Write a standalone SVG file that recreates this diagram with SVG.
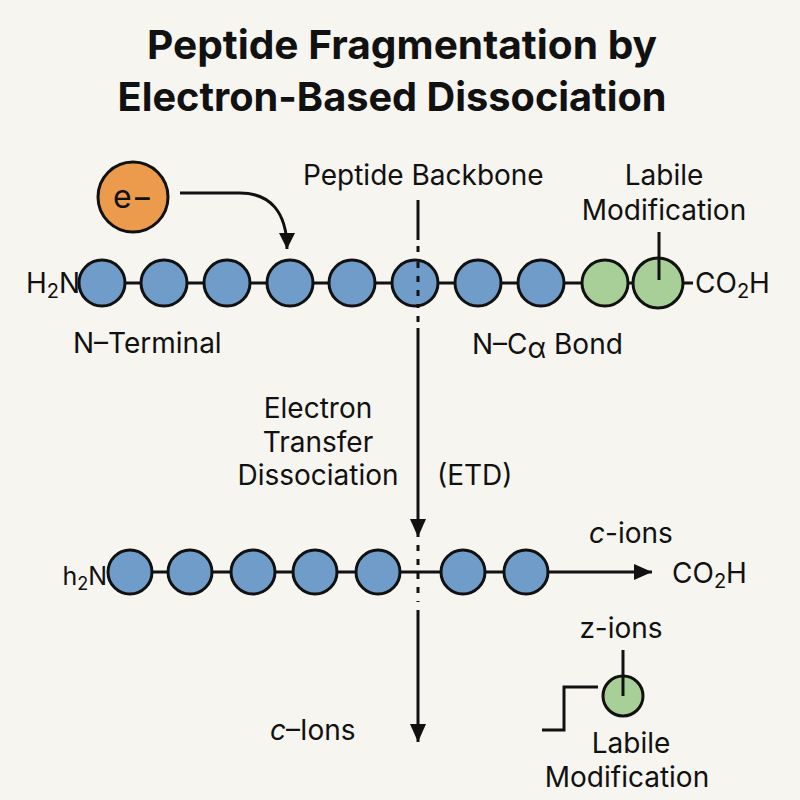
<svg xmlns="http://www.w3.org/2000/svg" width="800" height="800" viewBox="0 0 800 800">
<style>
.t{font-family:Inter,"Liberation Sans",Arial,sans-serif;fill:#111}
.title{font-size:40px;font-weight:700}
.lb{font-size:28px}
.ln{stroke:#111;stroke-width:3;fill:none}
.b{fill:#6F9CC8;stroke:#111;stroke-width:3}
.g{fill:#A8CF98;stroke:#111;stroke-width:3}
.o{fill:#EC9A4C;stroke:#111;stroke-width:3}
</style>
<defs>
<marker id="ah" markerUnits="userSpaceOnUse" markerWidth="20" markerHeight="20" viewBox="0 0 20 20" refX="18" refY="10" orient="auto">
<path d="M0,2 L18,10 L0,18 Z" fill="#111"/>
</marker>
<marker id="ah2" markerUnits="userSpaceOnUse" markerWidth="18" markerHeight="18" viewBox="0 0 18 18" refX="16" refY="9" orient="auto">
<path d="M0,1 L16,9 L0,17 Z" fill="#111"/>
</marker>
</defs>
<rect width="800" height="800" fill="#F6F5F0"/>
<g id="title">
<text class="t title" x="402" y="59" text-anchor="middle" textLength="510" lengthAdjust="spacingAndGlyphs">Peptide Fragmentation by</text>
<text class="t title" x="392" y="111" text-anchor="middle" textLength="549" lengthAdjust="spacingAndGlyphs">Electron-Based Dissociation</text>
</g>
<g id="connectors">
<line class="ln" x1="102" y1="283" x2="658" y2="283"/>
<line class="ln" x1="683" y1="283" x2="693" y2="283"/>
<path class="ln" d="M180,193 L240,193 C270,193 287,212 287,249" marker-end="url(#ah2)"/>
<line class="ln" x1="418" y1="200" x2="418" y2="240"/>
<line class="ln" x1="418" y1="246" x2="418" y2="322" stroke-dasharray="6 8"/>
<line class="ln" x1="418" y1="328" x2="418" y2="537" marker-end="url(#ah)"/>
<line class="ln" x1="130" y1="572" x2="652" y2="572" marker-end="url(#ah)"/>
<line class="ln" x1="418" y1="545" x2="418" y2="602" stroke-dasharray="6 8"/>
<line class="ln" x1="418" y1="610" x2="418" y2="742" marker-end="url(#ah)"/>
<path class="ln" d="M542,730 H564 V687 H598"/>
</g>
<g id="electron">
<circle class="o" cx="133" cy="197" r="35"/>
<text class="t" x="133" y="208" text-anchor="middle" font-size="32">e−</text>
</g>
<g id="chain-top">
<circle class="b" cx="102" cy="283" r="23"/>
<circle class="b" cx="164" cy="283" r="23"/>
<circle class="b" cx="227" cy="283" r="23"/>
<circle class="b" cx="290" cy="283" r="23"/>
<circle class="b" cx="352" cy="283" r="23"/>
<circle class="b" cx="415" cy="283" r="23"/>
<circle class="b" cx="478" cy="283" r="23"/>
<circle class="b" cx="541" cy="283" r="23"/>
<circle class="g" cx="605" cy="283" r="23"/>
<circle class="g" cx="658" cy="283" r="25"/>
<line class="ln" x1="418" y1="262" x2="418" y2="306" stroke-dasharray="6 8"/>
<line class="ln" x1="659" y1="232" x2="659" y2="280"/>
</g>
<g id="chain-bottom">
<circle class="b" cx="130" cy="572" r="22"/>
<circle class="b" cx="190" cy="572" r="22"/>
<circle class="b" cx="253" cy="572" r="22"/>
<circle class="b" cx="315" cy="572" r="22"/>
<circle class="b" cx="378" cy="572" r="22"/>
<circle class="b" cx="463" cy="572" r="22"/>
<circle class="b" cx="526" cy="572" r="22"/>
</g>
<g id="z-fragment">
<circle class="g" cx="623" cy="696" r="20"/>
<line class="ln" x1="623" y1="650" x2="623" y2="696"/>
</g>
<g id="labels">
<text class="t lb" x="80" y="293" text-anchor="end">H<tspan font-size="20" dy="5">2</tspan><tspan dy="-5">N</tspan></text>
<text class="t lb" x="695" y="293">CO<tspan font-size="20" dy="5">2</tspan><tspan dy="-5">H</tspan></text>
<text class="t lb" x="73" y="353">N–Terminal</text>
<text class="t lb" x="472" y="354">N–C<tspan dy="4">α</tspan><tspan dy="-4"> Bond</tspan></text>
<text class="t lb" x="303" y="185">Peptide Backbone</text>
<text class="t lb" x="664" y="185" text-anchor="middle">Labile</text>
<text class="t lb" x="664" y="220" text-anchor="middle">Modification</text>
<text class="t lb" x="318" y="418" text-anchor="middle">Electron</text>
<text class="t lb" x="318" y="452" text-anchor="middle">Transfer</text>
<text class="t lb" x="318" y="485" text-anchor="middle">Dissociation</text>
<text class="t lb" x="437" y="485">(ETD)</text>
<text class="t" x="107" y="585" text-anchor="end" font-size="25">h<tspan font-size="18" dy="5">2</tspan><tspan dy="-5">N</tspan></text>
<text class="t lb" x="631" y="543" text-anchor="middle"><tspan font-style="italic">c</tspan>-ions</text>
<text class="t lb" x="672" y="583">CO<tspan font-size="20" dy="5">2</tspan><tspan dy="-5">H</tspan></text>
<text class="t lb" x="621" y="638" text-anchor="middle">z-ions</text>
<text class="t lb" x="631" y="753" text-anchor="middle">Labile</text>
<text class="t lb" x="627" y="787" text-anchor="middle">Modification</text>
<text class="t lb" x="270" y="740"><tspan font-style="italic">c</tspan>–Ions</text>
</g>
</svg>
